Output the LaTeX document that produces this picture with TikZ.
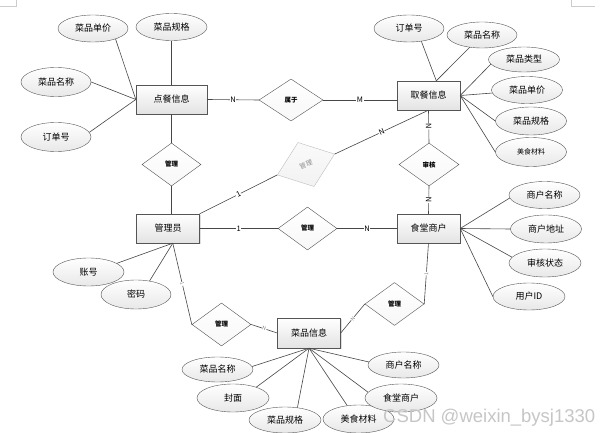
\documentclass[tikz,border=0pt]{standalone}
\usepackage{fontspec}
\newfontfamily\cjk{Noto Sans CJK SC}
\newfontfamily\wmfont{Liberation Sans}
\usetikzlibrary{shapes.geometric, shadows}
\definecolor{linegray}{RGB}{70, 70, 70}
\definecolor{boxedge}{RGB}{85, 85, 85}
\definecolor{fadeedge}{RGB}{190, 190, 190}

\begin{document}
\begin{tikzpicture}[
    x=1pt, y=-1pt,
    entity/.style={draw=boxedge, top color=white, bottom color=gray!22, font=\cjk\fontsize{9}{10}\selectfont, minimum width=63pt, minimum height=29pt, inner sep=0pt, drop shadow={shadow xshift=1.2pt, shadow yshift=-1.2pt, opacity=0.25}},
    attr/.style={ellipse, draw=boxedge, top color=white, bottom color=gray!18, font=\cjk\fontsize{9}{10}\selectfont, minimum width=71pt, minimum height=27pt, inner sep=0pt},
    rel/.style={diamond, draw=boxedge, top color=white, bottom color=gray!6, font=\cjk\fontsize{6.5}{7}\selectfont\bfseries, minimum width=59pt, minimum height=43pt, inner sep=0pt},
    link/.style={draw=linegray, line width=0.6pt},
    card/.style={font=\cjk\fontsize{7.5}{8}\selectfont, fill=white, inner sep=0.5pt},
    faint/.style={card, text=gray, font=\cjk\fontsize{5}{6}\selectfont}
]
\path[use as bounding box, fill=white] (0,0) rectangle (614,433);

% page corner marks
\draw[gray!40, line width=0.6pt] (16,0) -- (16,6) -- (0,6);
\draw[gray!40, line width=0.6pt] (571,0) -- (571,6) -- (595,6);

% Entities
\node (dc) [entity, minimum width=71pt] at (171.5,99.5) {点餐信息};
\node (qc) [entity] at (428.5,95.5) {取餐信息};
\node (gly) [entity] at (168,228.5) {管理员};
\node (st) [entity] at (428.5,228.5) {食堂商户};
\node (cp) [entity, minimum height=30pt] at (309,333) {菜品信息};

% Relationships
\node (r_sy) [rel, minimum width=64pt, minimum height=42pt] at (291,100) {属于};
\node (r_gl1) [rel] at (171.5,164.5) {管理};
\node (r_gl2) [rel] at (307.5,228.5) {管理};
\node (r_sh) [rel, minimum width=60pt] at (429,164.5) {审核};
\node (r_gx) [rel, draw=fadeedge, top color=gray!4, bottom color=gray!10, text=gray!90, font=\cjk\fontsize{6.5}{7}\selectfont, minimum width=61pt, minimum height=47pt, rotate=20] at (306,164.5) {管理};
\node (r_gl3) [rel] at (221.5,324.5) {管理};
\node (r_gl4) [rel] at (394.5,304) {管理};

% Attributes of 点餐信息
\node (dc_dj) [attr, minimum width=70pt] at (93,28.5) {菜品单价};
\node (dc_gg) [attr] at (171.5,27) {菜品规格};
\node (dc_mc) [attr, minimum width=70pt, minimum height=29pt] at (56,82) {菜品名称};
\node (dc_ddh) [attr, minimum width=70pt, minimum height=29pt] at (56,137) {订单号};

% Attributes of 取餐信息
\node (qc_ddh) [attr, minimum width=70pt] at (409,28.5) {订单号};
\node (qc_mc) [attr, minimum width=70pt, minimum height=26pt] at (482,35) {菜品名称};
\node (qc_lx) [attr, minimum height=25pt] at (524,59.5) {菜品类型};
\node (qc_dj) [attr] at (527,90) {菜品单价};
\node (qc_gg) [attr, minimum height=28pt] at (531,121) {菜品规格};
\node (qc_cl) [attr, minimum height=29pt, font=\cjk\fontsize{7}{8}\selectfont] at (531,152) {美食材料};

% Attributes of 食堂商户
\node (st_mc) [attr] at (544.5,195) {商户名称};
\node (st_dz) [attr, minimum height=28pt] at (546,229) {商户地址};
\node (st_zt) [attr, minimum width=72pt, minimum height=28pt] at (545,263) {审核状态};
\node (st_id) [attr, minimum width=72pt] at (529,296.5) {用户ID};

% Attributes of 管理员
\node (gly_zh) [attr, minimum height=28pt] at (88.5,272) {账号};
\node (gly_mm) [attr, minimum width=70pt, minimum height=29pt] at (136,294.5) {密码};

% Attributes of 菜品信息
\node (cp_mc) [attr, minimum height=25pt] at (217.5,369.5) {菜品名称};
\node (cp_fm) [attr, minimum width=72pt, minimum height=28pt] at (233,398) {封面};
\node (cp_gg) [attr, minimum width=72pt, minimum height=26pt] at (285,420) {菜品规格};
\node (cp_cl) [attr, minimum height=28pt] at (358.5,419) {美食材料};
\node (cp_st) [attr, minimum width=72pt, minimum height=28pt] at (401,398) {食堂商户};
\node (cp_sh) [attr, minimum height=26pt] at (403.5,365) {商户名称};

% Watermark
\node (wm) [anchor=base west, inner sep=0pt, text=gray!45, font=\wmfont\fontsize{18.5}{19}\selectfont] at (383,422) {CSDN @weixin\_bysj1330};

% Relationship links
\draw [link] (dc.east) -- node[card] {N} (r_sy.west);
\draw [link] (r_sy.east) -- node[card] {M} (r_sy.east -| qc.west);
\draw [link] (dc.south) -- (r_gl1.north);
\draw [link] (r_gl1.south) -- (r_gl1.south |- gly.north);
\draw [link] (gly.east) -- node[card] {1} (r_gl2.west);
\draw [link] (r_gl2.east) -- node[card] {N} (st.west);
\draw [link] (qc.south) -- node[card, sloped] {N} (r_sh.north);
\draw [link] (r_sh.south) -- node[card, sloped] {N} (st.north);
\draw [link] (gly.north east) -- node[card, sloped] {1} (r_gx.west);
\draw [link] (r_gx.east) -- node[card, sloped] {N} (qc.south);
\draw [link] (gly.-72) -- node[faint, sloped] {1} (r_gl3.west);
\draw [link] (r_gl3.east) -- node[faint, sloped] {N} (cp.west);
\draw [link] (cp.east) -- node[faint, sloped] {N} (r_gl4.west);
\draw [link] (r_gl4.east) -- node[faint, sloped] {1} (st.south);

% Attribute links
\draw [link] (dc_dj.-25) -- (dc.west);
\draw [link] (dc_mc.east) -- (dc.west);
\draw [link] (dc_ddh.8) -- (dc.west);
\draw [link] (dc_gg.south) -- (dc.north);

\draw [link] (qc_ddh.-46) -- (qc.62);
\draw [link] (qc_mc.-135) -- (qc.62);
\draw [link] (qc_lx.-172) -- (qc.east);
\draw [link] (qc_dj.-175) -- (qc.east);
\draw [link] (qc_gg.west) -- (qc.east);
\draw [link] (qc_cl.west) -- (qc.east);

\draw [link] (st_mc.-175) -- (st.east);
\draw [link] (st_dz.west) -- (st.east);
\draw [link] (st_zt.170) -- (st.east);
\draw [link] (st_id.west) -- (st.east);

\draw [link] (gly_zh.17) -- (gly.-72);
\draw [link] (gly_mm.45) -- (gly.-72);

\draw [link] (cp_mc.5) -- (cp.south);
\draw [link] (cp_fm.25) -- (cp.south);
\draw [link] (cp_gg.45) -- (cp.south);
\draw [link] (cp_cl.130) -- (cp.south);
\draw [link] (cp_st.170) -- (cp.south);
\draw [link] (cp_sh.175) -- (cp.south);

\end{tikzpicture}
\end{document}
